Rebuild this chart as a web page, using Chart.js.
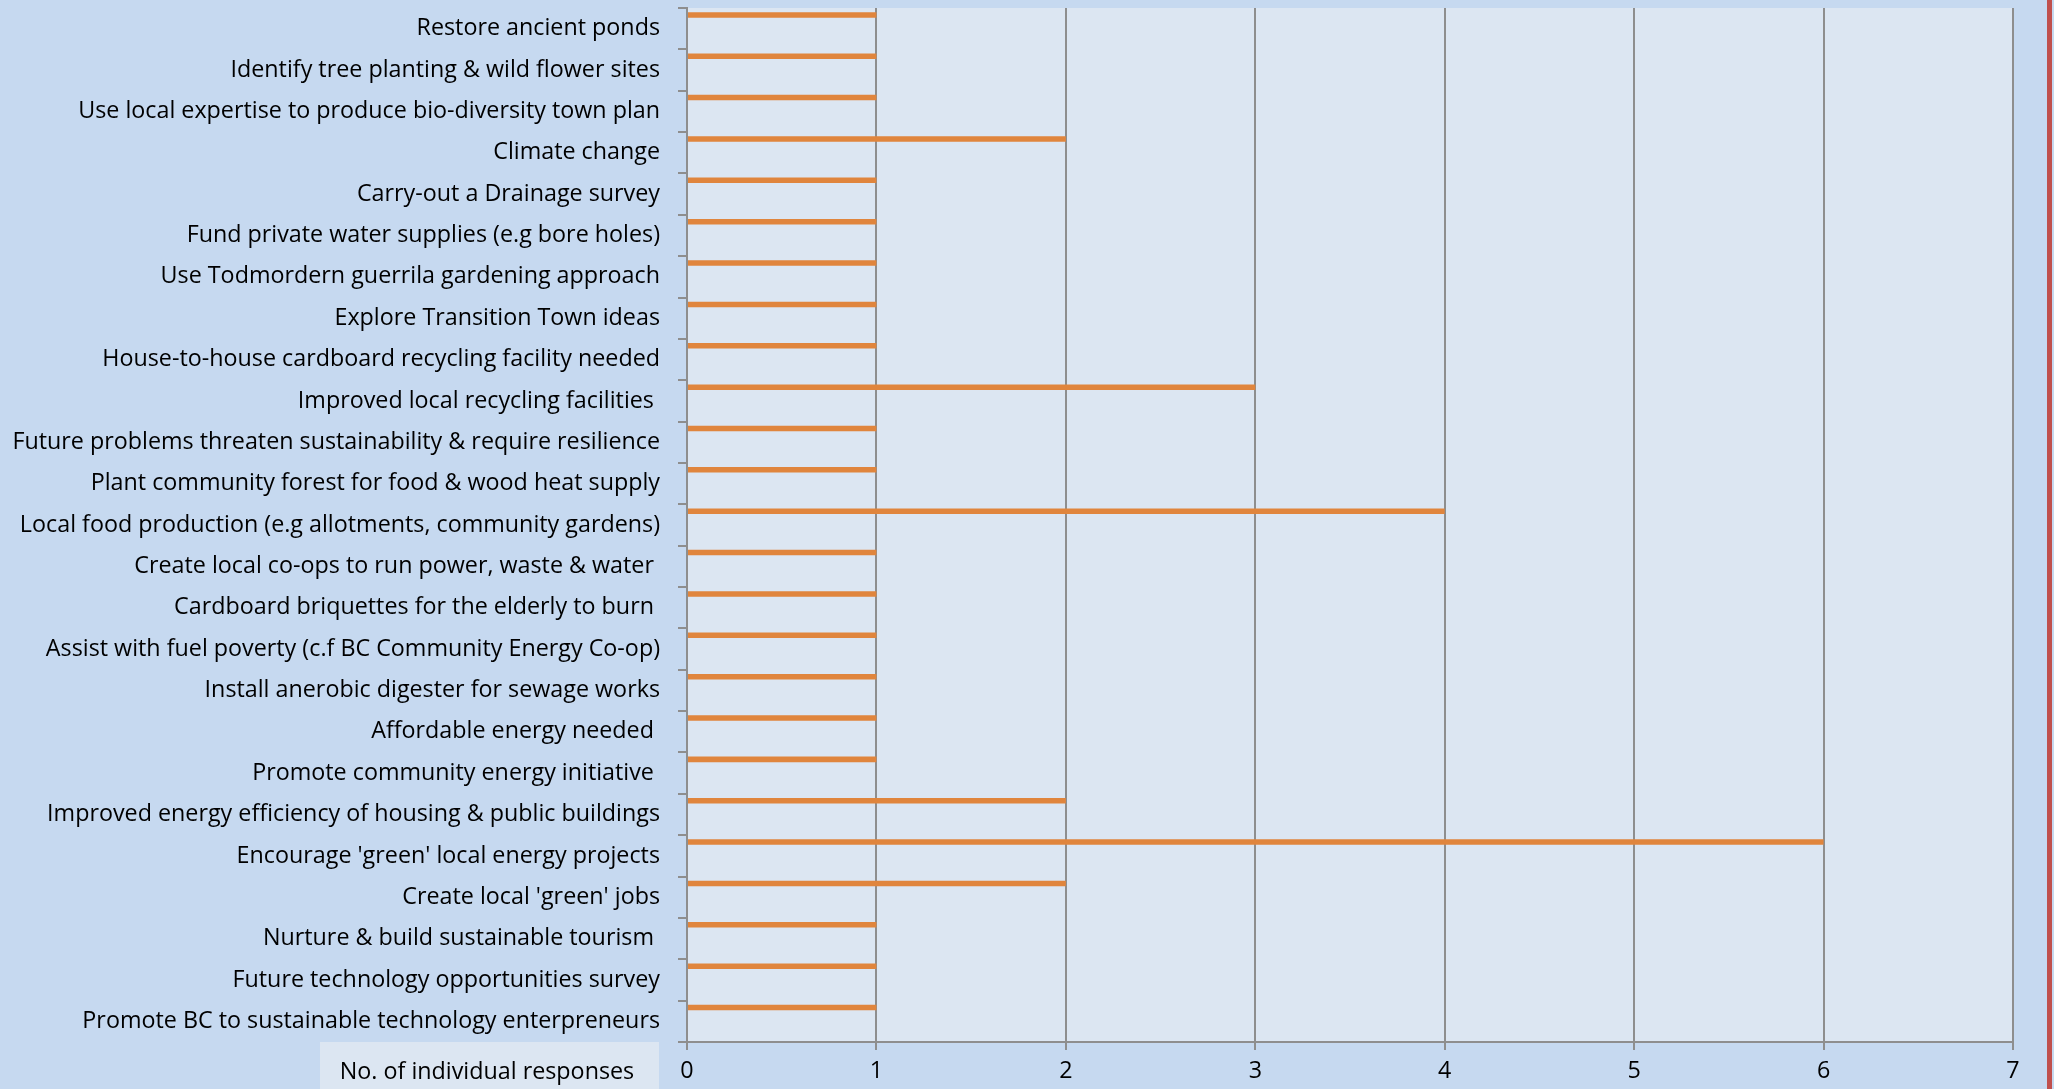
<!DOCTYPE html>
<html>
<head>
<meta charset="utf-8">
<script src="https://cdn.jsdelivr.net/npm/chart.js@4.4.0/dist/chart.umd.min.js"></script>
<style>
  html, body { margin: 0; padding: 0; background: #c6d9f0; overflow: hidden; }
  #wrap { position: relative; width: 2054px; height: 1089px; }
  #edge { position: absolute; left: 2047px; top: 0; width: 5px; height: 1089px; background: #c0504d; }
</style>
</head>
<body>
<div id="wrap">
  <canvas id="responsesChart" width="2054" height="1089"></canvas>
  <div id="edge"></div>
</div>
<script>
'use strict'

// categories, top to bottom as in the original sheet
const suggestions = [
    'Restore ancient ponds',
    'Identify tree planting & wild flower sites',
    'Use local expertise to produce bio-diversity town plan',
    'Climate change',
    'Carry-out a Drainage survey',
    'Fund private water supplies (e.g bore holes)',
    'Use Todmordern guerrila gardening approach',
    'Explore Transition Town ideas',
    'House-to-house cardboard recycling facility needed',
    'Improved local recycling facilities ',
    'Future problems threaten sustainability & require resilience',
    'Plant community forest for food & wood heat supply',
    'Local food production (e.g allotments, community gardens)',
    'Create local co-ops to run power, waste & water ',
    'Cardboard briquettes for the elderly to burn ',
    'Assist with fuel poverty (c.f BC Community Energy Co-op)',
    'Install anerobic digester for sewage works',
    'Affordable energy needed ',
    'Promote community energy initiative ',
    'Improved energy efficiency of housing & public buildings',
    "Encourage 'green' local energy projects",
    "Create local 'green' jobs",
    'Nurture & build sustainable tourism ',
    'Future technology opportunities survey',
    'Promote BC to sustainable technology enterpreneurs'
];

const responses = [1, 1, 1, 2, 1, 1, 1, 1, 1, 3, 1, 1, 4, 1, 1, 1, 1, 1, 1, 2, 6, 2, 1, 1, 1];

const xTicks = [0, 1, 2, 3, 4, 5, 6, 7];
const axisTitle = 'No. of individual responses';

const FONT = "'Open Sans', sans-serif";
const FONT_SIZE = 23.3;

// the sheet had other (empty) series, the orange one sits in the first slot
const emptySeries = [];
for (let i = 0; i < 5; i++) {
    emptySeries.push({ label: 'blank ' + (i + 1), data: [], backgroundColor: 'rgba(0,0,0,0)' });
}

const plotBackground = {
    id: 'plotBackground',
    beforeDraw(chart) {
        const a = chart.chartArea;
        const ctx = chart.ctx;
        ctx.save();
        ctx.fillStyle = '#dce6f2';
        ctx.fillRect(a.left, a.top, a.right - a.left, a.bottom - a.top);
        ctx.restore();
    }
};

// axis title box sits bottom-left, under the category labels
const titleBox = {
    id: 'titleBox',
    afterDraw(chart) {
        const ctx = chart.ctx;
        ctx.save();
        ctx.fillStyle = '#dce6f2';
        ctx.fillRect(320, 1042, 339, 47);
        ctx.fillStyle = '#000';
        ctx.font = FONT_SIZE + 'px ' + FONT;
        ctx.textAlign = 'center';
        ctx.textBaseline = 'middle';
        ctx.fillText(axisTitle, 487, 1072);
        ctx.restore();
    }
};

const ctx = document.getElementById('responsesChart').getContext('2d');
new Chart(ctx, {
    type: 'bar',
    data: {
        labels: suggestions,
        datasets: [{
            label: 'Responses',
            data: responses,
            backgroundColor: '#e0853d',
            borderWidth: 0
        }].concat(emptySeries)
    },
    options: {
        indexAxis: 'y',
        responsive: false,
        animation: false,
        devicePixelRatio: 1,
        categoryPercentage: 0.8,
        barPercentage: 1.0,
        layout: { padding: { top: 8, right: 41, bottom: 0, left: 0 } },
        plugins: { legend: { display: false }, tooltip: { enabled: false } },
        scales: {
            x: {
                min: 0,
                max: 7,
                afterBuildTicks: (scale) => { scale.ticks = xTicks.map(v => ({ value: v })); },
                afterFit: (scale) => { scale.height = 47; },
                grid: { color: '#8e8e8e', lineWidth: 2, tickLength: 8 },
                border: { color: '#8e8e8e', width: 2 },
                ticks: { color: '#000', padding: 7, font: { family: FONT, size: FONT_SIZE } }
            },
            y: {
                afterFit: (scale) => {
                    scale.width = 687;
                    scale.paddingTop = 0;
                    scale.paddingBottom = 0;
                },
                grid: { drawOnChartArea: false, color: '#8e8e8e', lineWidth: 2, tickLength: 9, offset: true },
                border: { color: '#8e8e8e', width: 2 },
                ticks: { color: '#000', padding: 18, autoSkip: false, font: { family: FONT, size: FONT_SIZE } }
            }
        }
    },
    plugins: [plotBackground, titleBox]
});
</script>
</body>
</html>
